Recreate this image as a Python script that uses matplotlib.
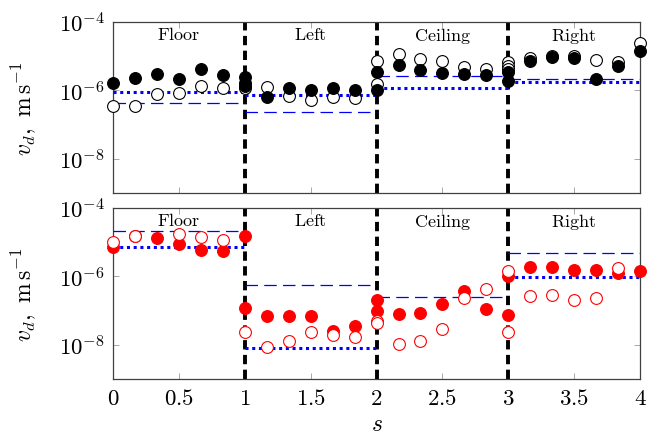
import numpy as np
import matplotlib
matplotlib.use('Agg')
import matplotlib.pyplot as plt
from matplotlib.ticker import FixedLocator, NullLocator

plt.rcParams['mathtext.fontset'] = 'cm'
plt.rcParams['font.family'] = ['DejaVu Serif']

# segment names and boundaries along s
segments = ['Floor', 'Left', 'Ceiling', 'Right']
seg_edges = [0, 1, 2, 3, 4]

# top panel (black markers)
top_filled_s = [0, 0.167, 0.333, 0.5, 0.667, 0.833, 1, 1, 1,
                1.167, 1.333, 1.5, 1.667, 1.833, 2, 2,
                2.167, 2.333, 2.5, 2.667, 2.833, 3, 3,
                3.167, 3.333, 3.5, 3.667, 3.833, 4]
top_filled_v = [1.66e-6, 2.29e-6, 3.09e-6, 2.09e-6, 4.27e-6, 2.82e-6, 2.5e-6, 1.66e-6, 1.38e-6,
                6.5e-7, 1.15e-6, 1.05e-6, 1.2e-6, 1.02e-6, 3.4e-6, 1.05e-6,
                5.5e-6, 3.9e-6, 3.2e-6, 3.1e-6, 2.8e-6, 3.5e-6, 1.9e-6,
                7.4e-6, 9.8e-6, 8.9e-6, 2.2e-6, 5.2e-6, 1.45e-5]
top_hollow_s = [0, 0.167, 0.333, 0.5, 0.667, 0.833, 1,
                1.167, 1.333, 1.5, 1.667, 1.833, 2, 2,
                2.167, 2.333, 2.5, 2.667, 2.833, 3, 3, 3,
                3.167, 3.333, 3.5, 3.667, 3.833, 4]
top_hollow_v = [3.5e-7, 3.5e-7, 7.8e-7, 8.5e-7, 1.38e-6, 1.15e-6, 1.2e-6,
                1.26e-6, 7.1e-7, 5.1e-7, 6.5e-7, 5.9e-7, 7.4e-6, 1.58e-6,
                1.15e-5, 8.1e-6, 7.2e-6, 4.8e-6, 4.3e-6, 6.6e-6, 5.2e-6, 4.2e-6,
                8.7e-6, 1.05e-5, 1.0e-5, 7.9e-6, 6.9e-6, 2.4e-5]
top_dotted = [8.9e-7, 7.4e-7, 1.15e-6, 1.74e-6]
top_dashed = [4.2e-7, 2.4e-7, 2.6e-6, 2.2e-6]

# bottom panel (red markers)
bot_filled_s = [0, 0.167, 0.333, 0.5, 0.667, 0.833, 1, 1,
                1.167, 1.333, 1.5, 1.667, 1.833, 2, 2,
                2.167, 2.333, 2.5, 2.667, 2.833, 3, 3,
                3.167, 3.333, 3.5, 3.667, 3.833, 4]
bot_filled_v = [7.4e-6, 1.5e-5, 1.32e-5, 8.9e-6, 5.9e-6, 5.5e-6, 1.5e-5, 1.2e-7,
                6.9e-8, 7.1e-8, 7.1e-8, 2.6e-8, 3.6e-8, 2.1e-7, 9.5e-8,
                8.1e-8, 8.7e-8, 1.58e-7, 3.7e-7, 1.15e-7, 1.02e-6, 7.6e-8,
                1.86e-6, 1.86e-6, 1.55e-6, 1.55e-6, 1.29e-6, 1.41e-6]
bot_hollow_s = [0, 0.167, 0.5, 0.667, 0.833, 1,
                1.167, 1.333, 1.5, 1.667, 1.833, 2, 2,
                2.167, 2.333, 2.5, 2.667, 2.833, 3, 3,
                3.167, 3.333, 3.5, 3.667, 3.833]
bot_hollow_v = [1.05e-5, 1.5e-5, 1.7e-5, 1.38e-5, 1.17e-5, 2.45e-8,
                8.5e-9, 1.3e-8, 2.45e-8, 2.0e-8, 1.66e-8, 5.1e-8, 4.3e-8,
                1.07e-8, 1.26e-8, 2.9e-8, 2.3e-7, 4.4e-7, 1.48e-6, 2.3e-8,
                2.75e-7, 2.9e-7, 2.1e-7, 2.3e-7, 1.78e-6]
bot_dotted = [7.1e-6, 8.1e-9, None, 9.5e-7]
bot_dashed = [2.2e-5, 5.8e-7, 2.45e-7, 4.9e-6]

x_ticks = [0, 0.5, 1, 1.5, 2, 2.5, 3, 3.5, 4]
y_ticks = [1e-8, 1e-6, 1e-4]


def draw_panel(ax, fs, fv, hs, hv, dotted, dashed, color, hollow_on_top):
    for b in seg_edges[1:-1]:
        ax.axvline(b, color='black', lw=2.8, dashes=(2.4, 1.4), zorder=2)
    for i in range(len(segments)):
        x0, x1 = seg_edges[i], seg_edges[i + 1]
        if dashed[i] is not None:
            ax.plot([x0, x1], [dashed[i]] * 2, color='blue', lw=0.9,
                    dashes=(10, 5), zorder=3)
        if dotted[i] is not None:
            ax.plot([x0, x1], [dotted[i]] * 2, color='blue', lw=2.2,
                    dashes=(1, 1.2), zorder=3)
        ax.text((x0 + x1) / 2, 0.985, r'$\mathrm{%s}$' % segments[i],
                transform=ax.get_xaxis_transform(), ha='center', va='top',
                fontsize=13)
    zf, zh = (5, 6) if hollow_on_top else (6, 5)
    ax.plot(hs, hv, 'o', ms=8.5, mfc='white', mec=color, mew=0.8,
            zorder=zh, clip_on=False)
    ax.plot(fs, fv, 'o', ms=8.5, mfc=color, mec=color, mew=0.8,
            zorder=zf, clip_on=False)

    ax.set_yscale('log')
    ax.set_xlim(0, 4)
    ax.set_ylim(1e-9, 1e-4)
    ax.yaxis.set_major_locator(FixedLocator(y_ticks))
    ax.yaxis.set_minor_locator(NullLocator())
    ax.set_yticklabels([r'$10^{-8}$', r'$10^{-6}$', r'$10^{-4}$'])
    ax.set_xticks(x_ticks)
    ax.tick_params(direction='in', length=4, width=0.6, color='0.6',
                   top=True, right=True, labelsize=16.5, pad=6)
    for sp in ax.spines.values():
        sp.set_color('0.25')
        sp.set_linewidth(0.9)
    ax.set_ylabel(r'$v_d,\ \mathrm{m\,s}^{-1}$', fontsize=17)
    ax.yaxis.set_label_coords(-0.143, 0.5)


fig = plt.figure(figsize=(6.48, 4.35), dpi=100)
ax1 = fig.add_axes([0.1744, 0.554, 0.8133, 0.393])
ax2 = fig.add_axes([0.1744, 0.1264, 0.8133, 0.393])

draw_panel(ax1, top_filled_s, top_filled_v, top_hollow_s, top_hollow_v,
           top_dotted, top_dashed, 'black', False)
draw_panel(ax2, bot_filled_s, bot_filled_v, bot_hollow_s, bot_hollow_v,
           bot_dotted, bot_dashed, 'red', True)

ax1.set_xticklabels([])
ax2.set_xticklabels([r'$%g$' % t for t in x_ticks])
ax2.set_xlabel(r'$s$', fontsize=17, labelpad=2)

fig.savefig('out.png', dpi=100)
